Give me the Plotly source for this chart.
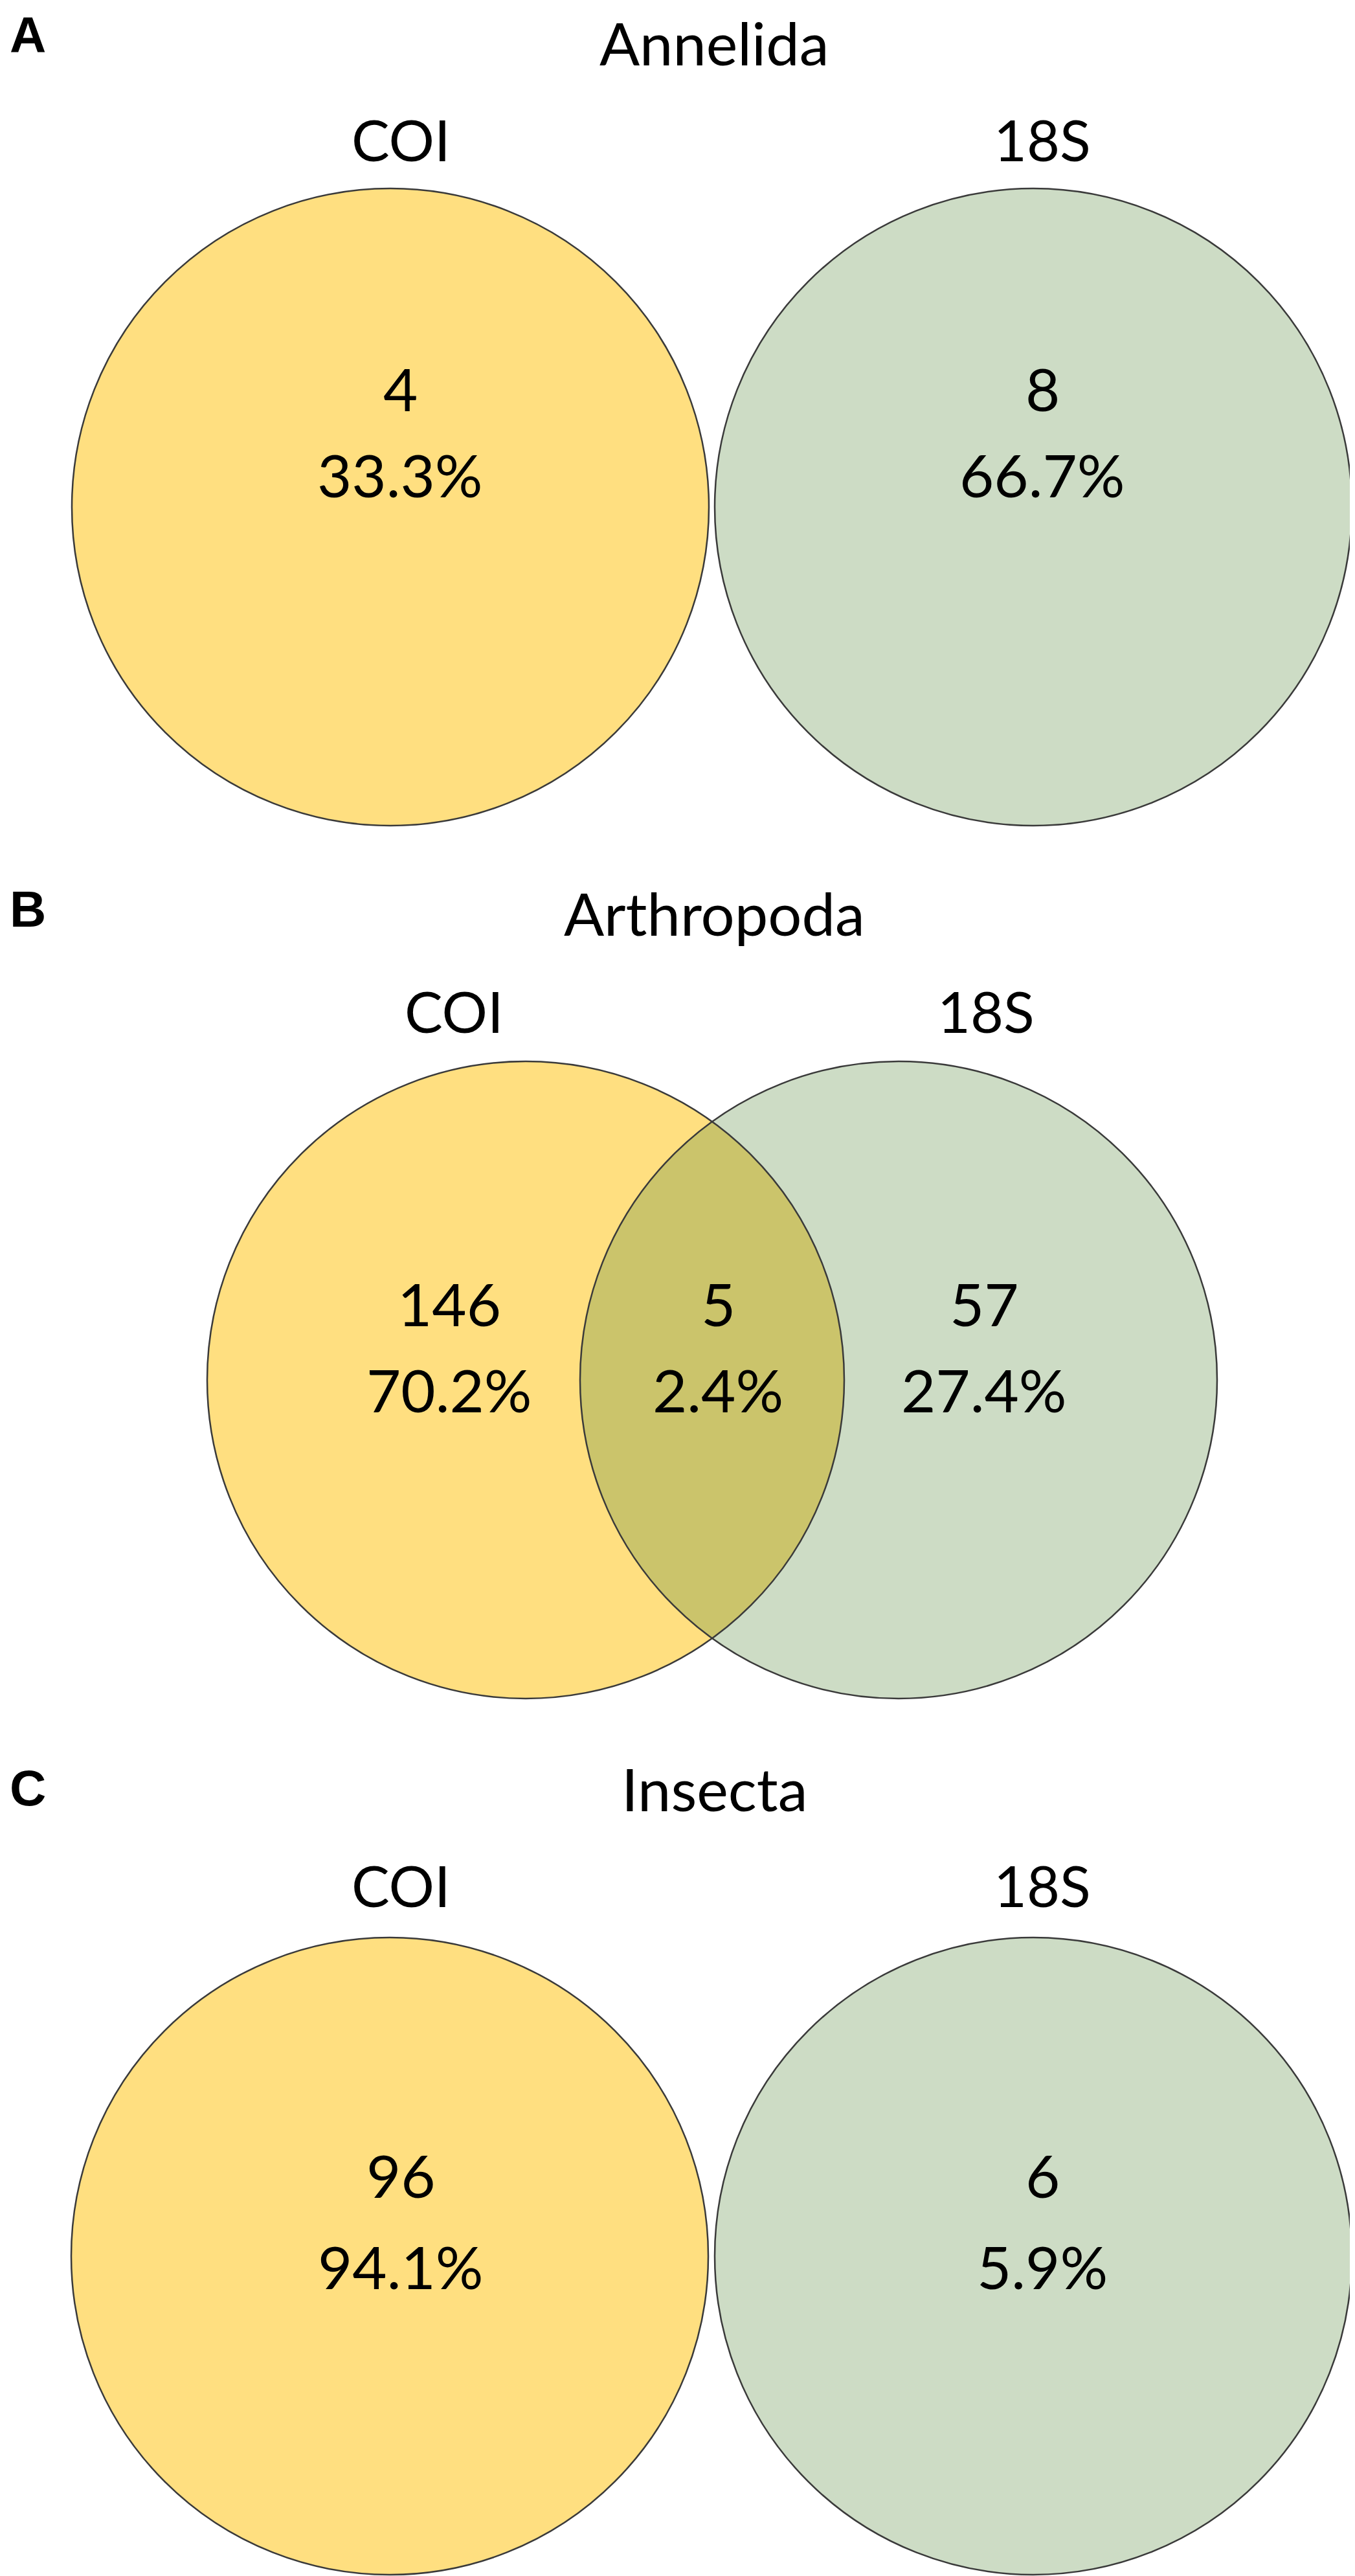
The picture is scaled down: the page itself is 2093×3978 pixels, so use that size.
import numpy as np
import plotly.graph_objects as go

# Venn counts: taxa detected by COI only, by both markers, by 18S only
panel_labels = ['A', 'B', 'C']
groups = ['Annelida', 'Arthropoda', 'Insecta']
markers = ['COI', '18S']
coi_only = [4, 146, 96]
shared = [0, 5, 0]
s18_only = [8, 57, 6]

# page geometry in pixels (one entry per panel)
W, H = 2093, 3978
R = 492
label_top = [0, 1350, 2707]
title_top = [0, 1344, 2696]
marker_y = [207, 1553, 2903]
circle_y = [775, 2123, 3476]
count_y = [591, 2004, 3350]
pct_y = [724, 2137, 3491]
left_cx = [595, 804, 594]
right_cx = [1588, 1380, 1588]
marker_x = [(611, 1602), (693, 1515), (611, 1602)]
region_x = [(610, None, 1602), (686, 1101, 1512), (611, None, 1602)]

YELLOW = '#FFDF80'
GREEN = '#CDDCC5'
OVERLAP = '#CBC46B'
EDGE = '#3a3a3a'
FONT = 'Lato, Open Sans, sans-serif'


def _pct(v, total):
    return '{:.1f}%'.format(100.0 * v / total)


def _lens(xl, xr, cy, r):
    # intersection region of two equal circles on the same row
    a = (xr - xl) / 2.0
    theta = np.arccos(a / r)
    t1 = np.linspace(-theta, theta, 120)
    t2 = np.linspace(np.pi - theta, np.pi + theta, 120)
    xs = np.concatenate([xl + r * np.cos(t1), xr + r * np.cos(t2)])
    ys = np.concatenate([cy + r * np.sin(t1), cy + r * np.sin(t2)])
    return go.Scatter(x=xs, y=ys, mode='lines', fill='toself', fillcolor=OVERLAP,
                      line={'width': 0}, hoverinfo='skip', showlegend=False)


fig = go.Figure()
shapes = []
annotations = []

for i, name in enumerate(groups):
    cy = circle_y[i]
    for cx, color in [(left_cx[i], YELLOW), (right_cx[i], GREEN)]:
        shapes.append(dict(type='circle', xref='x', yref='y', layer='below',
                           x0=cx - R, x1=cx + R, y0=cy - R, y1=cy + R,
                           fillcolor=color, line={'width': 0}))
        shapes.append(dict(type='circle', xref='x', yref='y', layer='above',
                           x0=cx - R, x1=cx + R, y0=cy - R, y1=cy + R,
                           line={'color': EDGE, 'width': 2.5}))
    if right_cx[i] - left_cx[i] < 2 * R:
        fig.add_trace(_lens(left_cx[i], right_cx[i], cy, R))

    annotations.append(dict(x=5, y=label_top[i], text='<b>' + panel_labels[i] + '</b>',
                            xanchor='left', yanchor='top',
                            font={'family': 'Liberation Sans, Arial', 'size': 78,
                                  'color': 'black'}))
    annotations.append(dict(x=1095, y=title_top[i], text=name, yanchor='top',
                            font={'family': FONT, 'size': 92, 'color': 'black'}))
    for mx, m in zip(marker_x[i], markers):
        annotations.append(dict(x=mx, y=marker_y[i], text=m,
                                font={'family': FONT, 'size': 88, 'color': 'black'}))

    total = coi_only[i] + shared[i] + s18_only[i]
    for rx, v in zip(region_x[i], [coi_only[i], shared[i], s18_only[i]]):
        if rx is None:
            continue
        annotations.append(dict(x=rx, y=count_y[i], text=str(v),
                                font={'family': FONT, 'size': 92, 'color': 'black'}))
        annotations.append(dict(x=rx, y=pct_y[i], text=_pct(v, total),
                                font={'family': FONT, 'size': 92, 'color': 'black'}))

for a in annotations:
    a.update(xref='x', yref='y', showarrow=False)
    a.setdefault('xanchor', 'center')
    a.setdefault('yanchor', 'middle')

fig.update_layout(
    width=W, height=H, autosize=False,
    margin={'l': 0, 'r': 0, 't': 0, 'b': 0},
    paper_bgcolor='white', plot_bgcolor='white',
    showlegend=False,
    shapes=shapes,
    annotations=annotations,
    xaxis={'range': [0, W], 'visible': False, 'fixedrange': True},
    yaxis={'range': [H, 0], 'visible': False, 'fixedrange': True},
)

fig.write_html('out.html')
